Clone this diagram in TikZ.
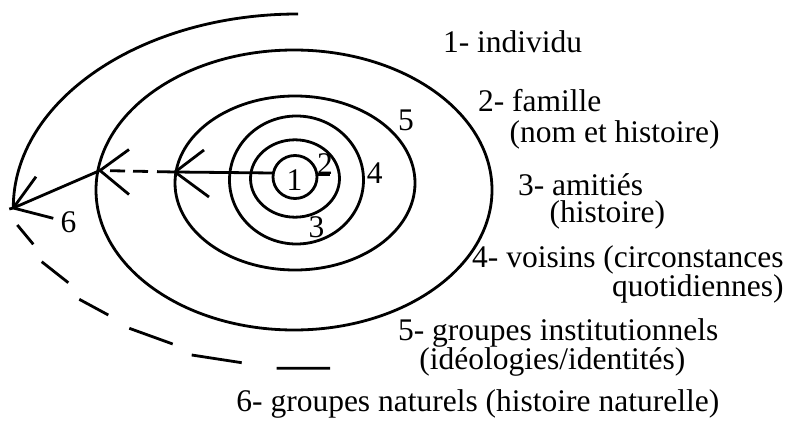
\documentclass[tikz,border=0pt]{standalone}
\usepackage{fontspec}
\setmainfont{Liberation Serif}
\begin{document}
\begin{tikzpicture}[x=1pt,y=-1pt,line width=2.8pt,
  lab/.style={inner sep=0pt, font=\fontsize{31.5}{36}\selectfont},
  txt/.style={lab, anchor=base west},
  txtr/.style={lab, anchor=base east},
  num/.style={lab, anchor=base}]
\useasboundingbox (0,0) rectangle (791,422);
% centres of the rings
\coordinate (c1) at (295,177);
\coordinate (c2) at (295,178.5);
\coordinate (c3) at (296.5,180);
\coordinate (c4) at (295,183);
\coordinate (c5) at (294,190);
\draw (c1) ellipse [x radius=22, y radius=21.5];
\draw (c2) ellipse [x radius=44.5, y radius=38.7];
\draw (c3) ellipse [x radius=67, y radius=64];
\draw (c4) ellipse [x radius=120, y radius=87];
\draw (c5) ellipse [x radius=198, y radius=140];
% connectors
\coordinate (e1w) at (273,173);
\coordinate (e1e) at (317,174.5);
\coordinate (tick) at (330,174.5);
\coordinate (t4) at (175,172);
\coordinate (t5) at (100,170.5);
\coordinate (t6) at (13.3,208);
\coordinate (s0) at (298,14);
\draw (e1e) -- (tick);
\draw (e1w) -- (t4);
\draw (t4) -- ++(29,-22) (t4) -- ++(34,25);
\draw[dash pattern=on 18pt off 9pt on 15pt off 8pt on 15pt off 30pt] (t4) -- (t5);
\draw (t5) -- ++(29,-21) (t5) -- ++(29,24);
\draw (t5) -- (t6);
\draw (t6) -- ++(22.7,-31.3) (t6) -- ++(40,10.3) (t6) -- ++(-4,1);
\draw (s0) .. controls (140.6,14) and (13,100.9) .. (t6);
% dashed lower spiral
\draw (17.3,225) -- (33.3,244.3)
      (41.7,261.7) -- (68.3,282.7)
      (79.3,299.3) -- (108.3,315)
      (129.3,328.3) -- (172.7,344)
      (191.7,355) -- (241.7,362.7)
      (276.7,368.3) -- (330,368.3);
% ring numbers
\node[num] (n1) at (294.5,190) {1};
\node[num] (n2) at (325,175) {2};
\node[num] (n3) at (316.5,237) {3};
\node[num] (n4) at (374.7,183.5) {4};
\node[num] (n5) at (406,131) {5};
\node[num] (n6) at (68.5,232.7) {6};
% legend
\node[txt] (l1) at (441.7,52.5) {1- individu};
\node[txt] (l2) at (476.7,111.7) {2- famille};
\node[txt] (l2b) at (508.3,142.5) {(nom et histoire)};
\node[txt] (l3) at (516.7,195) {3- amitiés};
\node[txt] (l3b) at (548.3,222.7) {(histoire)};
\node[txtr] (l4) at (785,267) {4- voisins (circonstances};
\node[txtr] (l4b) at (785,296) {quotidiennes)};
\node[txt] (l5) at (396.7,340) {5- groupes institutionnels};
\node[txt] (l5b) at (418,369) {(idéologies/identités)};
\node[txt] (l6) at (235,411) {6- groupes naturels (histoire naturelle)};
\end{tikzpicture}
\end{document}
